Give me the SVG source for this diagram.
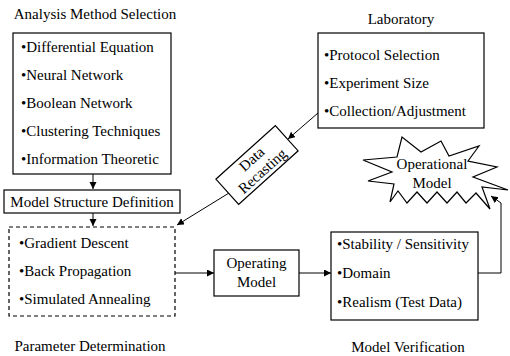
<svg xmlns="http://www.w3.org/2000/svg" width="510" height="356" viewBox="0 0 510 356" font-family="'Liberation Serif', 'Times New Roman', Times, serif" font-size="15">
<defs>
<marker id="ah" markerWidth="8" markerHeight="8" refX="7" refY="3.5" orient="auto" markerUnits="userSpaceOnUse">
<path d="M0,0 L7,3.5 L0,7 Z" fill="#000"/>
</marker>
<style>
text{fill:#000}
.c{text-anchor:middle}
.box{fill:#fff;stroke:#000;stroke-width:1.2}
.dash{fill:none;stroke:#000;stroke-width:1.2;stroke-dasharray:4,3}
.ln{fill:none;stroke:#000;stroke-width:1}
</style>
</defs>
<rect width="510" height="356" fill="#fff"/>
<g id="connectors">
<line class="ln" x1="93" y1="174" x2="93" y2="189" marker-end="url(#ah)"/>
<line class="ln" x1="93" y1="213" x2="93" y2="226" marker-end="url(#ah)"/>
<line class="ln" x1="318" y1="113" x2="288" y2="139" marker-end="url(#ah)"/>
<line class="ln" x1="229" y1="193" x2="177" y2="225" marker-end="url(#ah)"/>
<line class="ln" x1="175" y1="273" x2="214" y2="273" marker-end="url(#ah)"/>
<line class="ln" x1="299" y1="273" x2="331" y2="273" marker-end="url(#ah)"/>
<polyline class="ln" points="478,273 501,273 501,203 491,196" marker-end="url(#ah)"/>
</g>
<g id="analysis">
<text class="c" x="95" y="19">Analysis Method Selection</text>
<rect class="box" x="13" y="33" width="158" height="141"/>
<text x="21" y="52">•Differential Equation</text>
<text x="21" y="80">•Neural Network</text>
<text x="21" y="108">•Boolean Network</text>
<text x="21" y="136">•Clustering Techniques</text>
<text x="21" y="164">•Information Theoretic</text>
</g>
<g id="laboratory">
<text class="c" x="401" y="24">Laboratory</text>
<rect class="box" x="318" y="33" width="166" height="95"/>
<text x="324" y="60">•Protocol Selection</text>
<text x="324" y="88">•Experiment Size</text>
<text x="324" y="116">•Collection/Adjustment</text>
</g>
<g id="data-recasting" transform="translate(257,165) rotate(-42)">
<rect class="box" x="-40" y="-17" width="80" height="34"/>
<text class="c" x="0" y="-3">Data</text>
<text class="c" x="0" y="13">Recasting</text>
</g>
<g id="model-structure">
<rect class="box" x="4" y="190" width="176" height="23"/>
<text class="c" x="92" y="207">Model Structure Definition</text>
</g>
<g id="parameter">
<rect class="dash" x="9" y="227" width="166" height="89"/>
<text x="19" y="248">•Gradient Descent</text>
<text x="19" y="276">•Back Propagation</text>
<text x="19" y="304">•Simulated Annealing</text>
<text class="c" x="90" y="351">Parameter Determination</text>
</g>
<g id="operating">
<rect class="box" x="214" y="250" width="85" height="46"/>
<text class="c" x="256.5" y="268">Operating</text>
<text class="c" x="256.5" y="287">Model</text>
</g>
<g id="verification">
<rect class="box" x="331" y="232" width="147" height="88"/>
<text x="337" y="249">•Stability / Sensitivity</text>
<text x="337" y="278">•Domain</text>
<text x="337" y="307">•Realism (Test Data)</text>
<text class="c" x="408" y="352">Model Verification</text>
</g>
<g id="operational">
<polygon class="box" points="363,160 397,157 402,137 421,152 441,141 449,156 479,146 468,161 497,167 473,177 508,190 482,187 490,209 476,193 466,203 457,192 447,203 437,192 427,203 417,192 407,203 398,191 390,202 394,184 368,181 392,172"/>
<text class="c" x="432" y="169">Operational</text>
<text class="c" x="432" y="188">Model</text>
</g>
</svg>
